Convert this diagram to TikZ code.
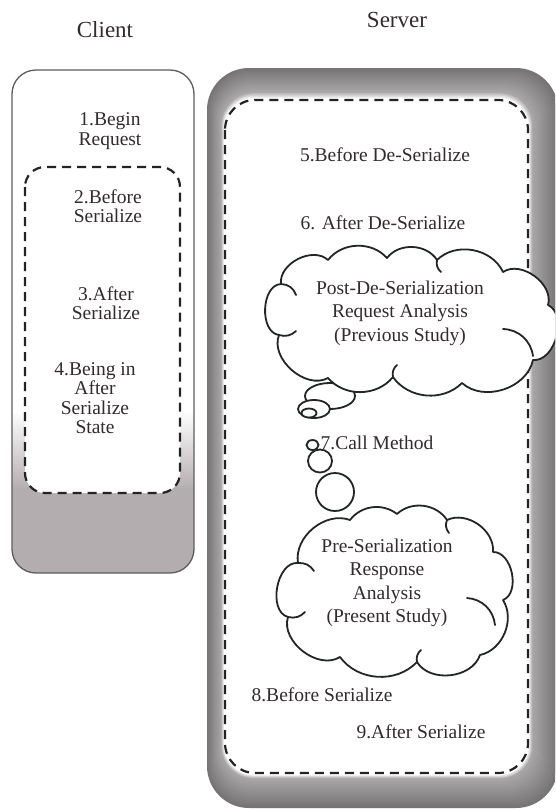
\documentclass[tikz,border=0pt]{standalone}
\usepackage{fontspec}
\setmainfont{Liberation Serif}
\definecolor{txt}{RGB}{50,43,47}
\definecolor{dashc}{RGB}{35,35,35}
\definecolor{cloudc}{RGB}{35,38,38}
\definecolor{clientgrey}{RGB}{180,173,176}
\definecolor{clientborder}{RGB}{95,92,94}
\definecolor{frameedge}{RGB}{118,116,117}
\definecolor{frameinner}{RGB}{170,168,169}
\begin{document}
\begin{tikzpicture}[x=1pt,y=-1pt,
  dashline/.style={draw=dashc, line width=2.2pt, dash pattern=on 9pt off 6pt},
  cloudline/.style={draw=cloudc, line width=1.8pt, line join=round, fill=white},
  hook/.style={draw=cloudc, line width=1.8pt, line cap=round},
  bubble/.style={draw=cloudc, line width=1.8pt, fill=white},
  lbl/.style={text=txt, inner sep=0pt, align=center, font=\fontsize{19.5}{19.5}\selectfont},
  cl/.style={text=txt, inner sep=0pt, align=center, font=\fontsize{19.5}{23.4}\selectfont},
  head/.style={text=txt, inner sep=0pt, font=\fontsize{23}{23}\selectfont}]
\useasboundingbox (0,0) rectangle (555,809);
\begin{scope}
\clip (0,0) rectangle (555,809);
\fill[white] (0,0) rectangle (555,809);

% ---------- Client box ----------
\begin{scope}
  \clip[rounded corners=24pt] (12,70) rectangle (194,573);
  \fill[white] (12,70) rectangle (194,411);
  \foreach \i in {0,...,29}{
    \pgfmathsetmacro\c{100*\i/29}
    \fill[clientgrey!\c!white] (12,{410+2.7*\i}) rectangle (194,{413.3+2.7*\i});
  }
  \fill[clientgrey] (12,488) rectangle (194,573);
\end{scope}
\draw[clientborder, line width=1.3pt, rounded corners=24pt] (12,70) rectangle (194,573);
\fill[white, rounded corners=20pt] (25,167) rectangle (180,493);
\draw[dashline, rounded corners=20pt] (25,167) rectangle (180,493);

% ---------- Server frame ----------
\foreach \i in {0,...,12}{
  \pgfmathsetmacro\t{\i/12}
  \pgfmathsetmacro\c{100*\t}
  \pgfmathsetmacro\r{42-9*\t}
  \fill[frameinner!\c!frameedge, rounded corners=\r pt] ({207+14*\t},{68+24*\t}) rectangle ({558-25*\t},{808-29*\t});
}
\foreach \i in {1,...,5}{
  \pgfmathsetmacro\t{\i/5}
  \pgfmathsetmacro\c{100*\t}
  \pgfmathsetmacro\r{33-3*\t}
  \fill[white!\c!frameinner, rounded corners=\r pt] ({221+3*\t},{92+6*\t}) rectangle ({533-4*\t},{779-4*\t});
}
\draw[dashline, rounded corners=30pt] (225,100) rectangle (528,773);

% ---------- Headers ----------
\node[head, anchor=base] (client) at (105,37.5) {Client};
\node[head, anchor=base] (server) at (397,27.5) {Server};

% ---------- Client texts ----------
\node[lbl] (t1) at (110,131) {1.Begin\\Request};
\node[lbl] (t2) at (108,206) {2.Before\\Serialize};
\node[lbl] (t3) at (106,303) {3.After\\Serialize};
\node[lbl] (t4) at (95,398) {4.Being in\\After\\Serialize\\State};

% ---------- Server texts ----------
\node[lbl, anchor=base] (t5) at (385,161) {5.Before De-Serialize};
\node[lbl, anchor=base] (t6) at (383,229) {6. After De-Serialize};

% ---------- Thought bubbles of cloud 1 ----------
\draw[bubble] (330,396) ellipse [x radius=25, y radius=13];
\draw[bubble] (314,409) ellipse [x radius=16, y radius=9];
\draw[bubble] (309,413) ellipse [x radius=7.5, y radius=4.5];

% ---------- Cloud 1 ----------
\draw[cloudline]
  (279,335) to[bend left=85] (281,284)
            to[bend left=70] (328,260)
            to[bend left=50] (387,258)
            to[bend left=55] (437,260)
            to[bend left=55] (503,272)
            to[bend left=70] (548,305)
            to[bend left=80] (533,360)
            to[bend left=60] (462,383)
            to[bend left=50] (393,377)
            to[bend left=50] (328,378)
            to[bend left=70] (279,335) -- cycle;
\draw[hook] (281,284) to[bend left=35] (296,295);
\draw[hook] (279,335) to[bend right=30] (296,331);
\draw[hook] (503,329) to[bend left=40] (533,356);
\draw[hook] (437,260) to[bend right=30] (441,272);
\draw[hook] (393,377) to[bend left=30] (397,365);
\node[cl] (c1) at (400,313) {Post-De-Serialization\\Request Analysis\\(Previous Study)};

% ---------- Thought bubbles of cloud 2 ----------
\draw[bubble] (335,492) ellipse [x radius=19, y radius=19];
\draw[bubble] (320,461) ellipse [x radius=12, y radius=11.5];
\draw[bubble] (312.5,445) ellipse [x radius=6, y radius=5];

\node[lbl, anchor=base] (t7) at (377,449) {7.Call Method};

% ---------- Cloud 2 ----------
\draw[cloudline]
  (288,617) to[bend left=85] (298,563)
            to[bend left=60] (350,520)
            to[bend left=45] (397,514)
            to[bend left=50] (447,520)
            to[bend left=60] (493,552)
            to[bend left=80] (503,600)
            to[bend left=55] (480,655)
            to[bend left=65] (417,662)
            to[bend left=50] (340,657)
            to[bend left=70] (288,617) -- cycle;
\draw[hook] (298,563) to[bend left=30] (314,571);
\draw[hook] (288,617) to[bend right=30] (305,612);
\draw[hook] (467,598) to[bend left=40] (495,625);
\draw[hook] (447,520) to[bend right=30] (449,533);
\draw[hook] (417,662) to[bend left=30] (421,650);
\node[cl] (c2) at (387,583) {Pre-Serialization\\Response\\Analysis\\(Present Study)};

\node[lbl, anchor=base] (t8) at (322,701) {8.Before Serialize};
\node[lbl, anchor=base] (t9) at (421,738) {9.After Serialize};
\end{scope}
\end{tikzpicture}
\end{document}
